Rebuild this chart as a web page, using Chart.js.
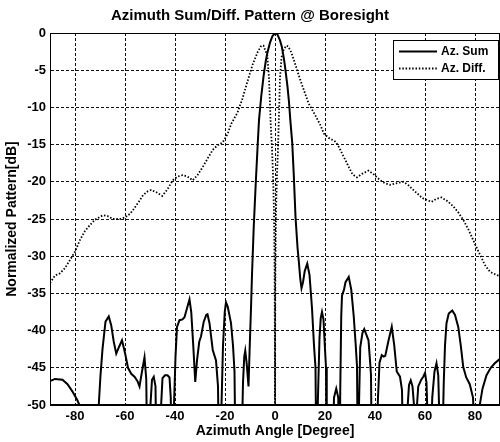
<!DOCTYPE html>
<html lang="en">
<head>
    <meta charset="UTF-8">
    <title>Azimuth Sum/Diff. Pattern</title>
    <script src="https://cdn.jsdelivr.net/npm/chart.js"></script>
    <style>
        body { margin: 0; background: #fff; }
        #wrap { width: 500px; height: 442px; }
    </style>
</head>
<body>
    <div id="wrap"><canvas id="patternChart" width="500" height="442"></canvas></div>
    <script>
        // tick positions
        const xTicks = [-80, -60, -40, -20, 0, 20, 40, 60, 80];
        const yTicks = [0, -5, -10, -15, -20, -25, -30, -35, -40, -45, -50];

        // Az. Sum (solid) - angle [deg] / level [dB]
        const sumAngle = [-90, -88, -85, -83, -81, -79, -78, -76.5, -74, -71.2, -70.5, -69.8, -69, -67.8, -66.5, -65.5, -64.5, -63.5, -62.4, -61.2,
            -60, -58.8, -57.5, -56.2, -55, -54.2, -53.2, -52.2, -51.5, -51, -50, -49.2, -48.5, -47.8, -47.3, -45.7, -45, -44, -43, -42.2,
            -41.7, -41.2, -40.4, -39.8, -39.2, -38.2, -37, -36.2, -35.2, -34.2, -33.5, -32.7, -31.9, -31.2, -30.3, -29.6, -28.5, -27.5, -27, -26.2,
            -24.9, -23.6, -22.8, -22.3, -21.4, -20.8, -20.1, -19.6, -18.9, -17.6, -16.8, -16.2, -15.7, -13.3, -12.8, -12.3, -11.9, -11.3, -10.6, -10.1,
            -9.6, -9.2, -8.5, -7.7, -7, -6.4, -5.5, -4.5, -3.7, -3, -2, -1, 0, 0.3, 1, 2, 2.7, 3.5, 4, 5,
            5.6, 6.2, 6.9, 7.5, 8.2, 9, 9.6, 10.1, 10.6, 11.2, 11.9, 12.9, 13.8, 14.8, 15.6, 16.2, 16.6, 17.1, 17.8, 18.3,
            18.8, 19.4, 20, 20.4, 20.7, 23.2, 23.6, 24.5, 25.3, 25.8, 26.1, 26.5, 26.8, 27.6, 28.2, 29.5, 30.5, 31.5, 32.3, 32.8,
            33.2, 33.6, 34.1, 35, 35.7, 36.5, 37.4, 38, 38.4, 38.8, 40.6, 41.2, 41.8, 42.7, 43.5, 44.1, 45.3, 46.7, 47.7, 48.7,
            50, 50.8, 51.4, 52.9, 53.6, 54.3, 55, 55.6, 56, 56.8, 57.3, 58.5, 59.3, 60, 60.6, 61.3, 62.4, 62.9, 63.8, 64.6,
            65.3, 66, 67, 67.5, 68, 68.6, 69.5, 70.9, 72, 73.3, 74.3, 75.3, 76.5, 77.9, 79.2, 80, 81, 81.9, 83, 84.6,
            86.3, 87.9, 90];
        const sumDb = [-46.8, -46.5, -46.6, -47.2, -48.2, -49.4, -50.2, -60, -65, -55, -50, -46, -42.5, -38.8, -38.1, -39.3, -41.5, -43.1, -42.2, -41.3,
            -43, -45, -45.8, -46.2, -46.8, -47.5, -45.5, -43.6, -46.5, -60, -51, -46.6, -46.2, -47.5, -60, -51, -46.4, -46, -46, -46.3,
            -49, -60, -50, -43.5, -39.5, -38.6, -38.5, -38.2, -37, -35.8, -37.5, -42, -46.9, -44, -41.5, -40.8, -38.8, -37.9, -37.8, -39,
            -42.6, -44, -47.5, -60, -50, -42, -37.5, -36.2, -36.8, -39, -42, -45.5, -60, -55, -47, -43.5, -42.7, -44.5, -47.5, -42,
            -37, -32.5, -26, -20.2, -15.5, -11.7, -8.5, -5.6, -3.8, -2.6, -1.3, -0.4, -0.02, 0, -0.2, -1, -1.8, -3.3, -4.5, -7.2,
            -9.3, -12, -14.8, -19, -24.7, -28.8, -31, -33, -34.3, -33.5, -32, -31, -32.5, -37, -42, -45, -60, -50, -41, -38.3,
            -37.5, -38.5, -42.5, -45, -60, -55, -49, -47.8, -49, -60, -48, -38, -35.3, -34.5, -33.5, -32.8, -34.5, -38.1, -42, -44.8,
            -60, -50, -42.2, -40.3, -39.8, -40.5, -41.3, -44, -46, -60, -55, -49, -44.3, -43.3, -43.5, -43.4, -41.5, -39.5, -42, -45.5,
            -46.2, -48, -60, -51, -47.3, -46.7, -47.5, -50, -60, -50, -47.5, -46.6, -46.2, -45.7, -47, -55, -55, -49, -45.5, -44.4,
            -46, -55, -55, -47, -42, -39, -37.7, -37.3, -37.9, -39.5, -42, -44.9, -46.3, -47.2, -49, -55, -55, -50, -47.8, -46,
            -45, -44.4, -43.8];

        // Az. Diff. (dotted) - deep null at boresight
        const diffAngle = [-90, -88, -86, -84, -82, -80, -78, -76, -74, -72, -70, -68.8, -67, -64.8, -62, -60, -58, -56.8, -54.5, -52.8,
            -51, -49.5, -47.5, -45.1, -43, -40.9, -39, -36.9, -35, -32.9, -31, -28.9, -27, -24.9, -23, -20.9, -19, -17.5, -15, -13,
            -11, -9, -7, -5.5, -4.6, -3.8, -3.1, -2.4, -1.7, -1.2, -0.8, -0.4, -0.15, -0.05, 0, 0.05, 0.15, 0.4, 0.8, 1.2,
            1.5, 2, 2.6, 3.5, 4.5, 5.3, 6.5, 8.2, 10, 12.2, 13.5, 16, 18.2, 19.5, 21.5, 24.2, 25.5, 27, 29.5, 31,
            32.8, 35, 37.4, 39.5, 42.1, 44, 46.1, 48.5, 51.4, 53.5, 56, 59, 62.6, 64.5, 66.6, 69, 71.3, 73.3, 75.3, 77.5,
            79.9, 82, 84, 86, 88.5, 90];
        const diffDb = [-33.6, -32.6, -32.3, -31.6, -30.5, -29.4, -27.8, -26.6, -25.8, -25.1, -24.7, -24.5, -24.6, -25, -25, -24.8, -24.3, -23.8, -22.7, -21.8,
            -21.3, -21.1, -21.4, -21.9, -21, -19.8, -19.3, -19.1, -19.3, -19.8, -19.1, -18, -16.9, -15.7, -15.1, -14.7, -13.6, -12.2, -10.7, -8.8,
            -6.5, -4.3, -2.6, -1.7, -1.7, -2.4, -3, -6, -12.4, -15.5, -19, -24, -32, -42, -80, -42, -32, -24, -19, -15.5,
            -12, -6, -3.3, -2.2, -1.7, -1.8, -2.6, -4.3, -6.2, -8.3, -9.5, -11, -12.4, -13.5, -14.1, -14.6, -15.3, -16.3, -18, -19,
            -19.4, -18.9, -18.5, -19, -19.8, -20.2, -20.4, -20.2, -20, -20.5, -21.3, -22.2, -22.7, -22.3, -22.1, -22.6, -23.3, -24.1, -25.1, -26.5,
            -28.3, -29.8, -31.2, -32.1, -32.5, -32.7];

        const seriesLabels = ['Az. Sum', 'Az. Diff.'];

        function toPoints(xs, ys) {
            return xs.map((x, i) => ({ x: x, y: ys[i] }));
        }

        // frame + legend box inside plot (MATLAB style)
        const framePlugin = {
            id: 'frame',
            afterDraw(chart) {
                const ctx = chart.ctx;
                const a = chart.chartArea;
                ctx.save();
                ctx.strokeStyle = '#000';
                ctx.lineWidth = 1;
                ctx.setLineDash([]);
                ctx.strokeRect(a.left + 0.5, a.top + 0.5, a.right - a.left - 1, a.bottom - a.top - 1);

                // legend
                const bx = 393, by = 40, bw = 105, bh = 39;
                ctx.fillStyle = '#fff';
                ctx.fillRect(bx, by, bw, bh);
                ctx.strokeRect(bx + 0.5, by + 0.5, bw, bh);
                chart.data.datasets.forEach((ds, i) => {
                    const y = by + 11.5 + i * 17;
                    ctx.beginPath();
                    ctx.strokeStyle = '#000';
                    ctx.lineWidth = ds.borderWidth;
                    ctx.setLineDash(ds.borderDash || []);
                    ctx.moveTo(399, y);
                    ctx.lineTo(437, y);
                    ctx.stroke();
                    ctx.setLineDash([]);
                    ctx.fillStyle = '#000';
                    ctx.font = 'bold 12px "Liberation Sans", Arial, sans-serif';
                    ctx.textBaseline = 'middle';
                    ctx.textAlign = 'left';
                    ctx.fillText(ds.label, 441, y + 0.5);
                });
                ctx.restore();
            }
        };

        const bgPlugin = {
            id: 'bg',
            beforeDraw(chart) {
                const ctx = chart.ctx;
                ctx.save();
                ctx.fillStyle = '#fff';
                ctx.fillRect(0, 0, chart.width, chart.height);
                ctx.restore();
            }
        };

        const fontFamily = '"Liberation Sans", Arial, sans-serif';

        const ctx = document.getElementById('patternChart').getContext('2d');
        const patternChart = new Chart(ctx, {
            type: 'line',
            data: {
                datasets: [{
                    label: seriesLabels[0],
                    data: toPoints(sumAngle, sumDb),
                    borderColor: '#000',
                    borderWidth: 2,
                    pointRadius: 0,
                    tension: 0,
                    clip: 0
                }, {
                    label: seriesLabels[1],
                    data: toPoints(diffAngle, diffDb),
                    borderColor: '#000',
                    borderWidth: 1.8,
                    borderDash: [1.5, 1.8],
                    pointRadius: 0,
                    tension: 0,
                    clip: 0
                }]
            },
            options: {
                responsive: false,
                animation: false,
                devicePixelRatio: 1,
                layout: { padding: { left: 0, right: 0, top: 0, bottom: 0 } },
                plugins: {
                    legend: { display: false },
                    tooltip: { enabled: false },
                    title: {
                        display: true,
                        text: 'Azimuth Sum/Diff. Pattern @ Boresight',
                        color: '#000',
                        font: { family: fontFamily, size: 15, weight: 'bold' },
                        padding: { top: 7, bottom: 8 }
                    }
                },
                scales: {
                    x: {
                        type: 'linear',
                        min: -90,
                        max: 90,
                        afterBuildTicks: scale => { scale.ticks = xTicks.map(v => ({ value: v })); },
                        afterFit: scale => { scale.height = 37; },
                        grid: {
                            color: '#111',
                            lineWidth: 1,
                            drawTicks: false
                        },
                        border: { display: true, color: '#000', dash: [3, 2] },
                        ticks: {
                            color: '#000',
                            padding: 4,
                            maxRotation: 0,
                            font: { family: fontFamily, size: 13, weight: 'bold' }
                        },
                        title: {
                            display: true,
                            text: 'Azimuth Angle [Degree]',
                            color: '#000',
                            font: { family: fontFamily, size: 14, weight: 'bold' },
                            padding: { top: 0, bottom: 2 }
                        }
                    },
                    y: {
                        min: -50,
                        max: 0,
                        afterBuildTicks: scale => { scale.ticks = yTicks.map(v => ({ value: v })); },
                        afterFit: scale => { scale.width = 50; },
                        grid: {
                            color: '#111',
                            lineWidth: 1,
                            drawTicks: false
                        },
                        border: { display: true, color: '#000', dash: [3, 2] },
                        ticks: {
                            color: '#000',
                            padding: 4,
                            font: { family: fontFamily, size: 13, weight: 'bold' }
                        },
                        title: {
                            display: true,
                            text: 'Normalized Pattern[dB]',
                            color: '#000',
                            font: { family: fontFamily, size: 14, weight: 'bold' },
                            padding: { top: 4, bottom: 0 }
                        }
                    }
                }
            },
            plugins: [bgPlugin, framePlugin]
        });
    </script>
</body>
</html>
